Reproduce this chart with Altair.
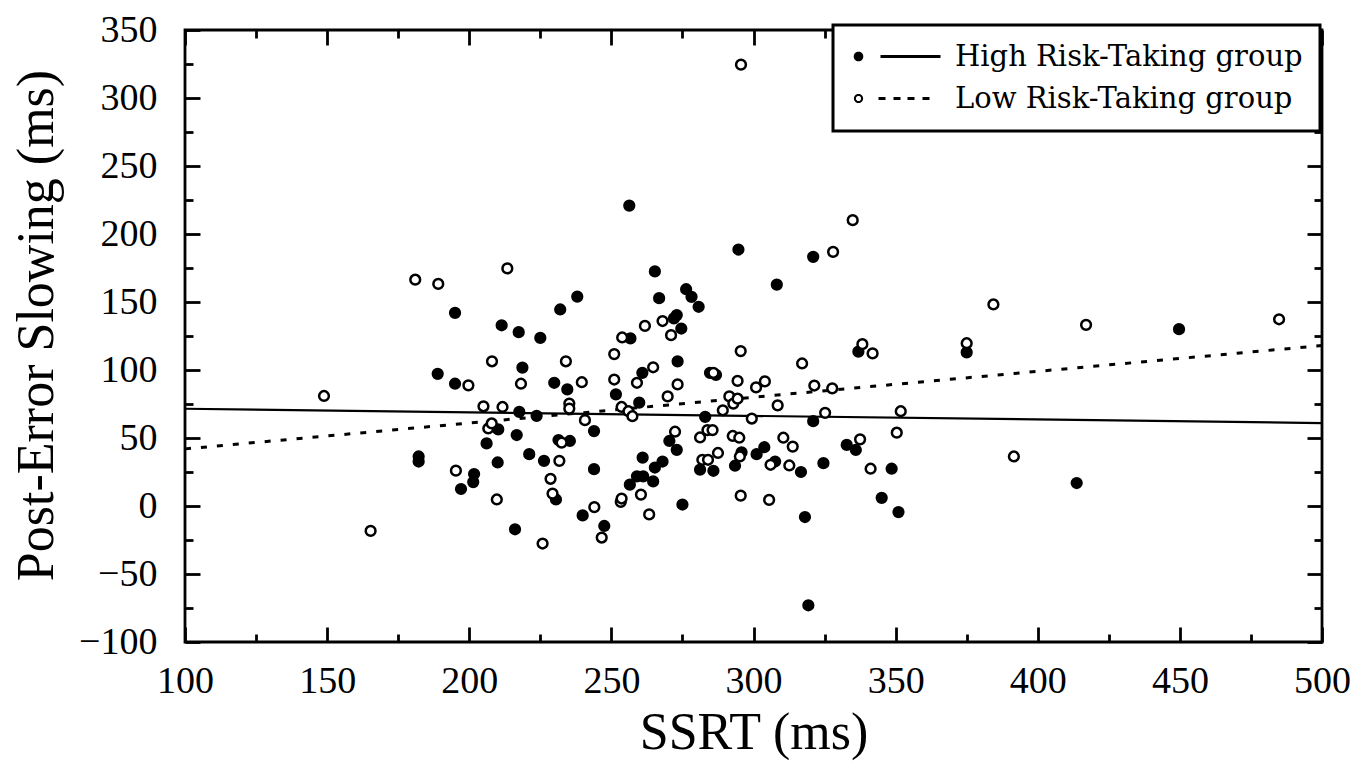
import math
import altair as alt
import pandas as pd

groups = ["High Risk-Taking group", "Low Risk-Taking group"]

high_ssrt = [182.2, 182.2, 188.9, 195.0, 195.0, 197.1, 201.7, 201.4, 206.1, 210.0,
             210.2, 211.4, 216.1, 216.7, 217.4, 217.6, 218.7, 221.1, 223.7, 225.0,
             226.3, 229.9, 230.5, 231.4, 232.0, 234.5, 235.4, 238.0, 239.9, 243.9,
             243.9, 247.5, 251.6, 256.5, 256.7, 256.3, 259.0, 259.8, 260.9, 261.2,
             261.0, 264.7, 265.3, 265.3, 266.8, 268.0, 270.4, 272.0, 273.0, 273.0,
             273.3, 274.6, 275.0, 276.3, 278.2, 280.7, 281.2, 283.0, 284.7, 286.8,
             285.9, 293.5, 294.7, 295.8, 301.1, 303.8, 307.6, 308.2, 316.7, 318.1,
             319.3, 321.0, 321.0, 324.6, 332.8, 336.0, 336.9, 345.1, 348.6, 351.0,
             375.0, 413.7, 449.7]
high_pes = [36.4, 32.7, 97.2, 142.0, 89.9, 12.5, 23.5, 17.6, 46.0, 32.0,
            56.3, 132.9, -17.1, 52.2, 127.8, 69.2, 101.8, 38.1, 66.3, 123.6,
            33.2, 90.6, 4.8, 48.5, 144.5, 85.7, 47.8, 154.0, -6.9, 55.1,
            27.1, -14.7, 82.1, 15.7, 123.2, 220.9, 21.8, 76.0, 97.9, 21.8,
            35.6, 18.1, 172.5, 28.3, 152.8, 32.7, 47.8, 138.0, 140.4, 41.3,
            106.4, 130.5, 1.1, 159.4, 153.8, 146.5, 26.7, 65.5, 97.9, 96.4,
            25.9, 29.6, 188.6, 39.5, 38.1, 43.2, 32.7, 162.8, 25.0, -8.1,
            -73.0, 183.2, 62.4, 31.5, 44.9, 41.2, 113.5, 6.0, 27.4, -4.5,
            113.0, 16.9, 130.0]

low_ssrt = [148.9, 165.3, 181.0, 189.1, 195.3, 199.7, 205.0, 206.7, 207.9, 208.0,
            209.7, 211.7, 213.4, 218.2, 225.8, 228.6, 229.3, 231.7, 232.5, 234.0,
            235.2, 235.2, 239.6, 240.7, 244.0, 246.6, 251.0, 251.0, 253.3, 253.6,
            253.6, 253.8, 256.0, 257.4, 259.0, 260.4, 261.8, 263.3, 264.7, 268.0,
            269.8, 271.0, 272.4, 273.3, 281.2, 282.0, 283.8, 284.0, 285.6, 285.9,
            287.5, 289.2, 291.5, 292.7, 292.9, 294.4, 294.4, 295.0, 295.2, 295.5,
            295.5, 295.6, 299.4, 300.9, 304.0, 305.5, 306.0, 308.5, 310.5, 312.6,
            313.8, 317.1, 321.4, 325.2, 327.7, 328.0, 334.9, 337.5, 338.3, 341.2,
            341.9, 350.4, 351.8, 375.0, 384.4, 391.6, 417.0, 484.9]
low_pes = [80.9, -18.3, 166.4, 163.3, 26.0, 88.7, 73.3, 57.0, 60.7, 106.4,
           4.8, 72.8, 174.7, 89.9, -27.6, 20.0, 9.1, 33.2, 46.6, 106.4,
           75.3, 71.6, 91.0, 63.1, -0.8, -23.2, 111.7, 93.0, 3.0, 5.5,
           72.8, 123.9, 69.7, 66.0, 90.6, 8.4, 132.4, -6.2, 102.0, 136.0,
           80.6, 125.6, 54.6, 89.4, 50.4, 34.0, 55.8, 34.0, 55.8, 97.9,
           39.0, 70.4, 80.6, 51.5, 75.3, 92.0, 78.9, 50.2, 36.4, 113.9,
           7.6, 324.5, 64.3, 87.2, 91.6, 4.5, 30.3, 74.0, 50.2, 29.8,
           43.7, 104.8, 88.6, 68.5, 86.5, 186.9, 210.2, 49.0, 119.0, 27.4,
           112.2, 53.9, 69.7, 119.7, 148.2, 36.4, 133.2, 137.3]

fit_ssrt = [100, 500]
high_fit = [71.5, 61.0]
low_fit = [42.0, 118.0]

x_major = list(range(100, 501, 50))
x_all = list(range(100, 501, 25))
y_major = list(range(-100, 351, 50))
y_all = list(range(-100, 351, 25))

W, H = 1137, 612
TOP = 22
SERIF = "Liberation Serif"

pts = pd.DataFrame({
    "ssrt": high_ssrt + low_ssrt,
    "pes": high_pes + low_pes,
    "group": [groups[0]] * len(high_ssrt) + [groups[1]] * len(low_ssrt),
})
high_df = pd.DataFrame({"ssrt": fit_ssrt, "pes": high_fit})
low_df = pd.DataFrame({"ssrt": fit_ssrt, "pes": low_fit})
leg_df = pd.DataFrame({"group": groups})

xs = alt.Scale(domain=[100, 500], nice=False, zero=False)
ys = alt.Scale(domain=[-100, 350], nice=False, zero=False)

tick_size = {"condition": {"test": "datum.value % 50 === 0", "value": 15}, "value": 8}


def tick_axis(orient, offset, values):
    return alt.Axis(orient=orient, offset=offset, values=values, labels=False,
                    domain=False, grid=False, ticks=True, tickSize=tick_size,
                    tickWidth=2.8, tickColor="black", title=None)


# legend symbol paths (dot + line sample), polygons only
def ring(cx, r, n=24):
    pts_ = [(cx + r * math.cos(2 * math.pi * k / n), r * math.sin(2 * math.pi * k / n)) for k in range(n)]
    s = "M %.3f %.3f " % pts_[0]
    s += " ".join("L %.3f %.3f" % p for p in pts_[1:])
    return s + " Z "


def seg(a, b):
    return f"M {a} -0.05 L {b} -0.05 M {a} 0.05 L {b} 0.05 "


dot_cx = -0.6
path_high = "".join(ring(dot_cx, r) for r in (0.38, 0.28, 0.18, 0.08)) + seg(1.6, 7.6)
path_low = ring(dot_cx, 0.36) + "".join(seg(a, round(a + 0.7, 2)) for a in (1.4, 2.9, 4.3, 5.8))

high_line = alt.Chart(high_df).mark_line(color="black", strokeWidth=2.2).encode(
    x=alt.X("ssrt:Q", scale=xs, axis=tick_axis("top", -H, x_all)),
    y=alt.Y("pes:Q", scale=ys, axis=tick_axis("right", -W, y_all)),
)

low_line = alt.Chart(low_df).mark_line(color="black", strokeWidth=3, strokeDash=[6, 10]).encode(
    x=alt.X("ssrt:Q", scale=xs, axis=tick_axis("bottom", -H, x_all)),
    y=alt.Y("pes:Q", scale=ys, axis=tick_axis("left", -W, y_all)),
)

points = alt.Chart(pts).mark_point(
    shape="circle", filled=True, size=95, stroke="black", strokeWidth=2.5, opacity=1
).encode(
    x=alt.X("ssrt:Q", scale=xs, axis=alt.Axis(
        orient="bottom", values=x_major, ticks=False, tickSize=0, domain=False, grid=False,
        labelFont=SERIF, labelFontSize=38, labelColor="black", labelPadding=20,
        labelFlush=False, labelOverlap=False,
        title="SSRT (ms)", titleFont=SERIF, titleFontSize=52, titleFontWeight="normal",
        titleColor="black", titleBaseline="alphabetic", titleY=106)),
    y=alt.Y("pes:Q", scale=ys, axis=alt.Axis(
        orient="left", values=y_major, ticks=False, tickSize=0, domain=False, grid=False,
        labelFont=SERIF, labelFontSize=38, labelColor="black", labelPadding=28,
        labelFlush=False, labelOverlap=False,
        title="Post-Error Slowing (ms)", titleFont=SERIF, titleFontSize=52,
        titleFontWeight="normal", titleColor="black", titleBaseline="alphabetic",
        titleX=-133, titleY=295)),
    fill=alt.condition(f"datum.group === '{groups[0]}'", alt.value("black"), alt.value("white")),
)

legend_layer = alt.Chart(leg_df).mark_point(
    color="black", filled=False, strokeWidth=2, opacity=0
).encode(
    shape=alt.Shape("group:N", scale=alt.Scale(domain=groups, range=[path_high, path_low]),
                    legend=alt.Legend(
                        title=None, orient="none", legendX=648, legendY=-5, padding=17,
                        fillColor="white", strokeColor="black",
                        symbolSize=400, symbolStrokeWidth=2, symbolStrokeColor="black",
                        symbolFillColor="white", symbolOpacity=1,
                        labelFont="DejaVu Serif", labelFontSize=29, labelColor="black",
                        labelOffset=76, rowPadding=12, labelLimit=700)),
)

chart = alt.layer(high_line, low_line, points, legend_layer).resolve_axis(
    x="independent", y="independent"
).properties(
    width=W, height=H,
    padding={"left": 177, "top": TOP, "right": 30, "bottom": 120},
    autosize=alt.AutoSizeParams(type="none"),
    background="white",
).configure_view(
    stroke="black", strokeWidth=2.8
).configure_legend(
    strokeWidth=3
)

chart.save("out.html", embed_options={"renderer": "svg", "actions": False})
